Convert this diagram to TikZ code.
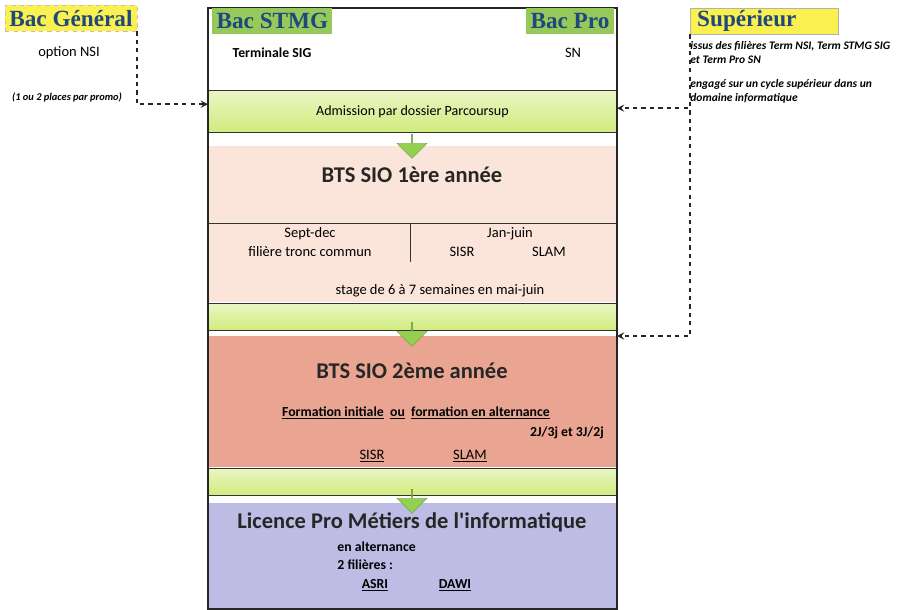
\documentclass[tikz,border=0pt]{standalone}
\usepackage{fontspec}
\setmainfont{Carlito}
\newfontfamily\bacfont{Liberation Serif}
\usetikzlibrary{shapes.arrows,positioning}
\definecolor{bacblue}{RGB}{31,73,125}
\definecolor{stmggreen}{RGB}{150,200,90}
\definecolor{tagyellow}{RGB}{250,240,80}
\definecolor{limeband}{RGB}{208,235,125}
\definecolor{pinklight}{RGB}{251,228,218}
\definecolor{salmon}{RGB}{234,165,146}
\definecolor{lavender}{RGB}{190,188,228}
\definecolor{arrowgreen}{RGB}{146,208,80}

\begin{document}
\begin{tikzpicture}[x=0.025cm,y=-0.025cm,>=stealth,line width=0.2mm,
  every node/.style={inner sep=0pt},
  bactag/.style={font=\bacfont\bfseries\fontsize{16.5}{18}\selectfont,text=bacblue,
    inner xsep=3pt,minimum height=0.65cm,anchor=north west},
  block/.style={anchor=north west,minimum width=10.2cm,draw=black!80},
  band/.style={block,top color=limeband!45,bottom color=limeband,
    font=\fontsize{10}{12}\selectfont},
  chevron/.style={single arrow,shape border rotate=270,fill=arrowgreen,
    draw=arrowgreen!70!black,line width=0.1mm,minimum height=0.6cm,
    minimum width=0.75cm,single arrow head extend=0.12cm},
  txt/.style={font=\fontsize{10.3}{12}\selectfont},
  bold/.style={font=\bfseries\fontsize{9.8}{11}\selectfont},
  title/.style={font=\bfseries\fontsize{16}{18}\selectfont,text=black!85},
  remark/.style={font=\bfseries\itshape\fontsize{8.2}{10}\selectfont,align=left,anchor=north west},
  link/.style={->,dashed,line width=0.45mm,black!85}]
  \useasboundingbox (0,0) rectangle (904,610);

  % colonne centrale
  \node[block,minimum height=2.05cm,fill=white] (top) at (208,8) {};
  \node[band,minimum height=1.05cm] (band1) at (208,90) {Admission par dossier Parcoursup};
  \node[block,draw=none,minimum height=1.925cm,fill=pinklight] (bts1) at (208,146) {};
  \node[block,minimum height=0.95cm,fill=pinklight] (row) at (208,223) {};
  \node[block,draw=none,minimum height=1.025cm,fill=pinklight] (stage) at (208,261) {};
  \node[band,minimum height=0.675cm] (band2) at (208,303) {};
  \node[block,draw=none,minimum height=3.275cm,fill=salmon] (bts2) at (208,336) {};
  \node[band,minimum height=0.675cm] (band3) at (208,468) {};
  \node[block,draw=none,minimum height=2.625cm,fill=lavender] (lic) at (208,503) {};
  \draw[black!80] (row.north -| 410,0) -- (row.south -| 410,0);

  \node[chevron] (ch1) at (412,146) {};
  \node[chevron] (ch2) at (412,334) {};
  \node[chevron] (ch3) at (412,501) {};
  \draw[black!85,line width=0.35mm] (top.north west) rectangle (lic.south east);

  % bacs
  \node[bactag,fill=stmggreen] (stmg) at (212,8) {Bac STMG};
  \node[bactag,fill=stmggreen,anchor=north east] (pro) at (614,8) {Bac Pro};
  \node[bold] (sig) at (272,53) {Terminale SIG};
  \node[txt] (sn) at (573,53) {SN};

  \node[bactag,fill=tagyellow,draw=black!25,dashed,line width=0.1mm] (gen) at (5,5) {Bac Général};
  \node[txt] (nsi) at (69,53) {option NSI};
  \node[remark,anchor=center,font=\bfseries\itshape\fontsize{7.4}{8}\selectfont] (promo) at (67,97) {(1 ou 2 places par promo)};

  \node[bactag,fill=tagyellow,draw=black!30,line width=0.1mm,inner xsep=5pt,
    text width=3.35cm,align=left] (sup) at (690,8) {Supérieur};
  \node[remark] (issus) at (690,41) {issus des filières Term NSI, Term STMG SIG\\et Term Pro SN};
  \node[remark] (engage) at (690,79) {engagé sur un cycle supérieur dans un\\domaine informatique};

  % BTS 1
  \node[title] (t1) at (412,175) {BTS SIO 1ère année};
  \node[txt] (sept) at (310,234) {Sept-dec};
  \node[txt] (tronc) at (310,252) {filière tronc commun};
  \node[txt] (jan) at (510,234) {Jan-juin};
  \node[txt] (sisr1) at (462,252) {SISR};
  \node[txt] (slam1) at (549,252) {SLAM};
  \node[txt] (stg) at (440,291) {stage de 6 à 7 semaines en mai-juin};

  % BTS 2
  \node[title] (t2) at (412,371) {BTS SIO 2ème année};
  \node[bold] (form) at (416,413) {\underline{Formation initiale}\ \ \underline{ou}\ \ \underline{formation en alternance}};
  \node[bold] (rythme) at (567,433) {2J/3j et 3J/2j};
  \node[txt] (sisr2) at (372,456) {\underline{SISR}};
  \node[txt] (slam2) at (470,456) {\underline{SLAM}};

  % licence
  \node[title] (t3) at (412,522) {Licence Pro Métiers de l\textquotesingle informatique};
  \node[bold,anchor=west] (alt) at (337,547) {en alternance};
  \node[bold,anchor=west] (fil) at (337,565) {2 filières :};
  \node[bold] (asri) at (375,585) {\underline{ASRI}};
  \node[bold] (dawi) at (455,585) {\underline{DAWI}};

  % acces
  \draw[link] (gen.south east) |- ([yshift=0.18cm]band1.west);
  \draw[link] (sup.south west) |- ([yshift=0.08cm]band1.east);
  \draw[link] (sup.south west) |- (bts2.north east);
\end{tikzpicture}
\end{document}
